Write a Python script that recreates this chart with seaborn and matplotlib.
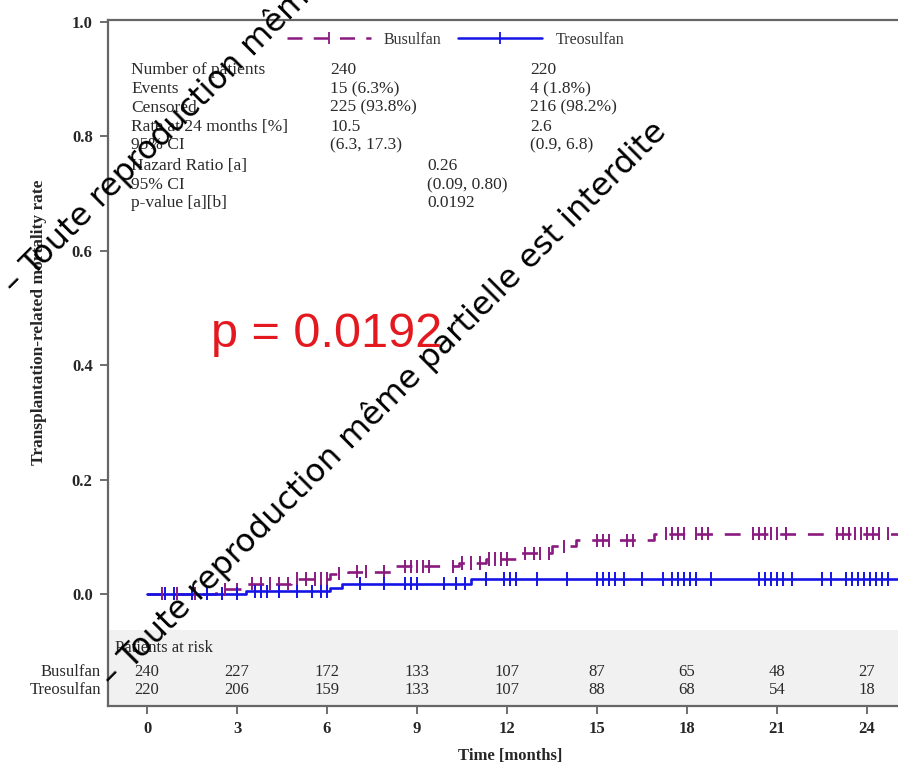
import numpy as np
import pandas as pd
import matplotlib
matplotlib.use("Agg")
import matplotlib.pyplot as plt
from matplotlib.lines import Line2D
import seaborn as sns

# ---- data ----------------------------------------------------------------
arms = ["Busulfan", "Treosulfan"]

# cumulative incidence steps (time in months, rate after the step)
bu_event_times = [2.3, 3.3, 4.8, 6.1, 6.7, 8.3, 10.4, 11.3, 12.4, 13.5, 14.3, 16.9]
bu_event_rates = [0.008, 0.0175, 0.026, 0.035, 0.039, 0.048, 0.054, 0.061, 0.071,
                  0.083, 0.094, 0.105]
tr_event_times = [3.3, 6.1, 6.5, 10.8]
tr_event_rates = [0.0045, 0.011, 0.018, 0.026]
follow_up_end = 25.4

# censoring times
bu_censor = [0.5, 1.0, 1.6, 2.0, 2.6, 3.0, 3.5, 3.8, 4.1, 4.4, 4.7, 5.0, 5.3, 5.6,
             5.8, 6.0, 6.4, 7.0, 7.3, 7.9, 8.6, 8.8, 9.0, 9.2, 9.4, 10.2, 10.5,
             10.8, 11.1, 11.4, 11.6, 11.8, 12.0, 12.6, 12.9, 13.1, 13.4, 13.9,
             15.0, 15.2, 15.4, 16.0, 16.2, 17.3, 17.5, 17.7, 17.9, 18.3, 18.5,
             18.7, 20.2, 20.4, 20.6, 20.8, 21.0, 21.3, 23.0, 23.2, 23.4, 23.6,
             23.8, 24.0, 24.2, 24.4, 24.7]
tr_censor = [0.6, 0.9, 1.5, 2.0, 2.5, 3.0, 3.6, 3.8, 4.0, 4.4, 5.0, 5.5, 5.8, 6.0,
             7.1, 7.9, 8.6, 8.8, 9.0, 9.9, 10.3, 10.6, 11.3, 11.9, 12.1, 12.3,
             13.0, 14.0, 15.0, 15.2, 15.4, 15.6, 15.9, 16.5, 17.2, 17.5, 17.7,
             17.9, 18.1, 18.3, 18.8, 20.4, 20.6, 20.8, 21.0, 21.2, 21.5, 22.5,
             22.8, 23.3, 23.5, 23.7, 23.9, 24.1, 24.3, 24.5, 24.7]

risk_times = [0, 3, 6, 9, 12, 15, 18, 21, 24]
bu_at_risk = [240, 227, 172, 133, 107, 87, 65, 48, 27]
tr_at_risk = [220, 206, 159, 133, 107, 88, 68, 54, 18]

table_labels = ["Number of patients", "Events", "Censored", "Rate at 24 months [%]",
                "95% CI"]
table_bu = ["240", "15 (6.3%)", "225 (93.8%)", "10.5", "(6.3, 17.3)"]
table_tr = ["220", "4 (1.8%)", "216 (98.2%)", "2.6", "(0.9, 6.8)"]
hr_labels = ["Hazard Ratio [a]", "95% CI", "p-value [a][b]"]
hr_values = ["0.26", "(0.09, 0.80)", "0.0192"]
p_text = "p = 0.0192"

colors = {"Busulfan": "#8a1a80", "Treosulfan": "#1414e6"}

# ---- tidy frames --------------------------------------------------------
def curve_frame(name, times, rates):
    t = [0.0] + list(times) + [follow_up_end]
    r = [0.0] + list(rates) + [rates[-1]]
    return pd.DataFrame({"time": t, "rate": r, "arm": name})

def censor_frame(name, ctimes, times, rates):
    steps_t = np.array([0.0] + list(times))
    steps_r = np.array([0.0] + list(rates))
    idx = np.searchsorted(steps_t, np.array(ctimes), side="right") - 1
    return pd.DataFrame({"time": ctimes, "rate": steps_r[idx], "arm": name})

curves = pd.concat([curve_frame("Busulfan", bu_event_times, bu_event_rates),
                    curve_frame("Treosulfan", tr_event_times, tr_event_rates)])
censors = pd.concat([censor_frame("Busulfan", bu_censor, bu_event_times, bu_event_rates),
                     censor_frame("Treosulfan", tr_censor, tr_event_times, tr_event_rates)])

# ---- figure -------------------------------------------------------------
sns.set_theme(style="white")
plt.rcParams["font.family"] = ["Liberation Serif", "DejaVu Serif"]

fig = plt.figure(figsize=(8.98, 7.66), dpi=100)
ax = fig.add_axes([108 / 898, 60 / 766, 804 / 898, 686 / 766])

ax.axhspan(-0.2, -0.063, color="#f1f1f1", zorder=0, lw=0)

sns.lineplot(data=curves, x="time", y="rate", hue="arm", style="arm",
             hue_order=arms, style_order=arms, palette=colors,
             dashes={"Busulfan": (6, 4.5), "Treosulfan": ""},
             drawstyle="steps-post", estimator=None, sort=False,
             linewidth=1.9, legend=False, ax=ax, zorder=3)
sns.scatterplot(data=censors, x="time", y="rate", hue="arm", hue_order=arms,
                palette=colors, marker="|", s=90, linewidth=1.4,
                legend=False, ax=ax, zorder=4)

ax.set_xlim(-1.3, 25.5)
ax.set_ylim(-0.196, 1.0035)
ax.set_xticks(risk_times)
ax.set_yticks([0.0, 0.2, 0.4, 0.6, 0.8, 1.0])
ax.set_yticklabels([f"{v:.1f}" for v in [0.0, 0.2, 0.4, 0.6, 0.8, 1.0]])
ax.tick_params(axis="both", which="major", direction="out", length=6, width=1.2,
               color="#555555", labelsize=12, bottom=True, left=True, pad=5)
for lab in ax.get_xticklabels() + ax.get_yticklabels():
    lab.set_fontweight("bold")
ax.tick_params(axis="x", pad=5)

for side in ["left", "bottom", "top"]:
    ax.spines[side].set_color("#666666")
    ax.spines[side].set_linewidth(1.6)
ax.spines["right"].set_visible(False)

ax.set_xlabel("Time [months]", fontsize=12, fontweight="bold", labelpad=8)
ax.set_ylabel("Transplantation-related mortality rate", fontsize=12.5,
              fontweight="bold")
ax.yaxis.set_label_coords(-0.0759, 0.56)

# legend
handles = [Line2D([], [], color=colors["Busulfan"], lw=1.8, ls=(0, (6, 4.5)),
                  marker="|", markersize=9, mew=1.3),
           Line2D([], [], color=colors["Treosulfan"], lw=1.8, ls="-",
                  marker="|", markersize=9, mew=1.3)]
ax.legend(handles, arms, ncol=2, frameon=False, loc="center",
          bbox_to_anchor=(0.432, 0.971), fontsize=11.5, handlelength=5.3,
          columnspacing=1.0, handletextpad=0.8, labelcolor="#333333")

# summary table
txt = dict(fontsize=12.5, color="#2a2a2a", va="center")
row_y = [0.916, 0.883, 0.850, 0.817, 0.785]
for y, a, b, c in zip(row_y, table_labels, table_bu, table_tr):
    ax.text(-0.53, y, a, ha="left", **txt)
    ax.text(6.1, y, b, ha="left", **txt)
    ax.text(12.77, y, c, ha="left", **txt)
hr_y = [0.748, 0.715, 0.683]
for y, a, b in zip(hr_y, hr_labels, hr_values):
    ax.text(-0.53, y, a, ha="left", **txt)
    ax.text(9.33, y, b, ha="left", **txt)

ax.text(6.0, 0.453, p_text, color="#e3191f", fontsize=35,
        family="Liberation Sans", ha="center", va="center")

# numbers at risk
ax.text(-1.07, -0.094, "Patients at risk", ha="left", va="center",
        fontsize=12, color="#2a2a2a")
for t, nb, nt in zip(risk_times, bu_at_risk, tr_at_risk):
    ax.text(t, -0.136, str(nb), ha="center", va="center", fontsize=12,
            color="#2a2a2a")
    ax.text(t, -0.168, str(nt), ha="center", va="center", fontsize=12,
            color="#2a2a2a")
ax.text(-1.53, -0.136, "Busulfan", ha="right", va="center", fontsize=12,
        color="#2a2a2a", clip_on=False)
ax.text(-1.53, -0.168, "Treosulfan", ha="right", va="center", fontsize=12,
        color="#2a2a2a", clip_on=False)

# diagonal notice across the page
notice = "– Toute reproduction même partielle est interdite"
for cx, cy in [(286, 11), (384, 404)]:
    fig.text(cx / 898, 1 - cy / 766, notice, rotation=45, rotation_mode="anchor",
             ha="center", va="center", fontsize=23, family="DejaVu Sans",
             color="black", zorder=10)

fig.savefig("out.png", dpi=100)
